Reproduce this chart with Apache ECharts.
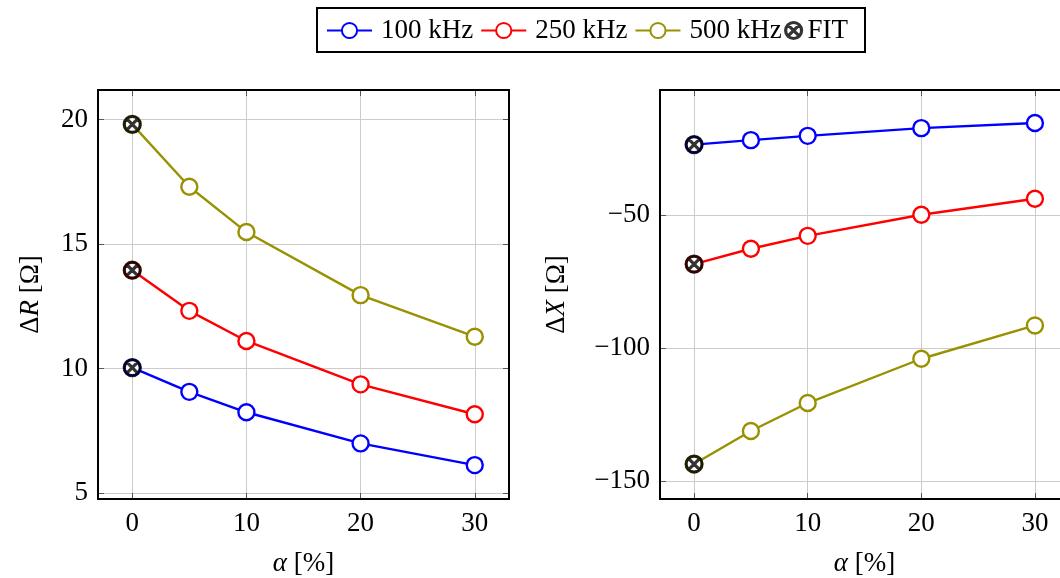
<!DOCTYPE html>
<html><head><meta charset="utf-8">
<script src="https://cdn.jsdelivr.net/npm/echarts@6/dist/echarts.min.js"></script>
<style>html,body{margin:0;padding:0;background:#fff}#c{width:1060px;height:578px}</style>
</head><body><div id="c"></div>
<script>
const alpha = [0, 5, 10, 20, 30];
const dR100 = [10.04, 9.07, 8.25, 7.0, 6.13];
const dR250 = [13.95, 12.32, 11.11, 9.37, 8.17];
const dR500 = [19.8, 17.3, 15.48, 12.95, 11.28];
const dX100 = [-23.7, -22.0, -20.4, -17.5, -15.6];
const dX250 = [-68.5, -62.75, -57.9, -50.0, -44.0];
const dX500 = [-143.5, -131.1, -120.6, -104.0, -91.5];
const fitAlpha = [0, 0, 0];
const fitR = [10.04, 13.95, 19.8];
const fitX = [-23.7, -68.5, -143.5];
const xTicks = [0, 10, 20, 30];
const yTicksR = [5, 10, 15, 20];
const yTicksX = [-150, -100, -50];
const names = ['100 kHz', '250 kHz', '500 kHz'];
const colors = ['#0000ff', '#ff0000', '#999100'];

const FONT = 'Liberation Serif';
const FS = 27;
const fitPath = 'path://M0,-10A10,10 0 1,1 0,10A10,10 0 1,1 0,-10Z M-6.5,-6.5L6.5,6.5 M6.5,-6.5L-6.5,6.5';

function pair(xs, ys) { return xs.map((x, i) => [x, ys[i]]); }

const grids = [
  { left: 98, top: 90, width: 411, height: 409, show: true, borderColor: '#000', borderWidth: 2, z: 5, outerBoundsMode: 'none', containLabel: false },
  { left: 660, top: 90, width: 409, height: 409, show: true, borderColor: '#000', borderWidth: 2, z: 5, outerBoundsMode: 'none', containLabel: false }
];
const rich = { i: { fontFamily: FONT, fontStyle: 'italic', fontSize: FS, color: '#000' }, n: { fontFamily: FONT, fontSize: FS, color: '#000' } };

function xAx(g, pos, labels) {
  return {
    type: 'value', gridIndex: g, position: pos, min: -3, max: 33,
    axisLine: { show: false, onZero: false },
    axisTick: { show: true, inside: true, length: 6, lineStyle: { color: '#555', width: 1 }, customValues: xTicks },
    axisLabel: { show: labels, customValues: xTicks, fontFamily: FONT, fontSize: FS, color: '#000', margin: 11 },
    splitLine: { show: pos === 'bottom', lineStyle: { color: '#cccccc', width: 1 }, customValues: xTicks },
    name: labels ? '{i|α}{n| [%]}' : '',
    nameLocation: 'middle', nameGap: 51,
    nameTextStyle: { rich: rich }
  };
}
function yAx(g, pos, labels, min, max, ticks, nm, gap) {
  return {
    type: 'value', gridIndex: g, position: pos, min: min, max: max,
    axisLine: { show: false, onZero: false },
    axisTick: { show: true, inside: true, length: 6, lineStyle: { color: '#555', width: 1 }, customValues: ticks },
    axisLabel: { show: labels, customValues: ticks, fontFamily: FONT, fontSize: FS, color: '#000', margin: 10,
      formatter: v => String(v).replace('-', '\u2212') },
    splitLine: { show: pos === 'left', lineStyle: { color: '#cccccc', width: 1 }, customValues: ticks },
    name: labels ? nm : '',
    nameLocation: 'middle', nameGap: gap, nameRotate: 90,
    nameTextStyle: { rich: rich }
  };
}

const xAxis = [xAx(0, 'bottom', true), xAx(1, 'bottom', true), xAx(0, 'top', false), xAx(1, 'top', false)];
const yAxis = [
  yAx(0, 'left', true, 4.77, 21.18, yTicksR, '{n|Δ}{i|R}{n| [Ω]}', 54),
  yAx(1, 'left', true, -156.6, -3.2, yTicksX, '{n|Δ}{i|X}{n| [Ω]}', 90),
  yAx(0, 'right', false, 4.77, 21.18, yTicksR, '', 0),
  yAx(1, 'right', false, -156.6, -3.2, yTicksX, '', 0)
];

const series = [];
const leftData = [dR100, dR250, dR500];
const rightData = [dX100, dX250, dX500];
for (let k = 0; k < 3; k++) {
  [[leftData[k], 0], [rightData[k], 1]].forEach(([arr, g]) => {
    series.push({
      name: names[k], type: 'line', xAxisIndex: g, yAxisIndex: g,
      data: pair(alpha, arr), symbol: 'circle', symbolSize: 16,
      lineStyle: { color: colors[k], width: 2.4 },
      itemStyle: { color: '#fff', borderColor: colors[k], borderWidth: 2.4 },
      emphasis: { disabled: true }, animation: false, z: 3
    });
  });
}
[[fitR, 0], [fitX, 1]].forEach(([arr, g]) => {
  series.push({
    name: 'FIT', type: 'scatter', xAxisIndex: g, yAxisIndex: g,
    data: pair(fitAlpha, arr), symbol: fitPath, symbolSize: 16,
    itemStyle: { color: 'rgba(0,0,0,0)', borderColor: '#000', borderWidth: 3.2 },
    emphasis: { disabled: true }, animation: false, z: 4
  });
});

const option = {
  animation: false,
  grid: grids, xAxis: xAxis, yAxis: yAxis, series: series,
  legend: [
    { data: names, left: 326, top: 17, padding: 0, itemWidth: 45, itemHeight: 19, itemGap: 7,
      textStyle: { fontFamily: FONT, fontSize: FS, color: '#000', padding: [0, 0, 0, 4] }, selectedMode: false },
    { data: [{ name: 'FIT', icon: fitPath }], left: 784, top: 17, padding: 0, itemWidth: 16, itemHeight: 16, itemGap: 4,
      textStyle: { fontFamily: FONT, fontSize: FS, color: '#000', padding: [0, 0, 0, 1] }, selectedMode: false,
      itemStyle: { color: 'rgba(0,0,0,0)', borderColor: '#000', borderWidth: 3.2 } }
  ],
  graphic: [{ type: 'rect', shape: { x: 317, y: 8, width: 548, height: 44 }, style: { fill: 'none', stroke: '#000', lineWidth: 2 } }]
};
const chart = echarts.init(document.getElementById('c'), null, { renderer: 'canvas' });
chart.setOption(option);
</script></body></html>
